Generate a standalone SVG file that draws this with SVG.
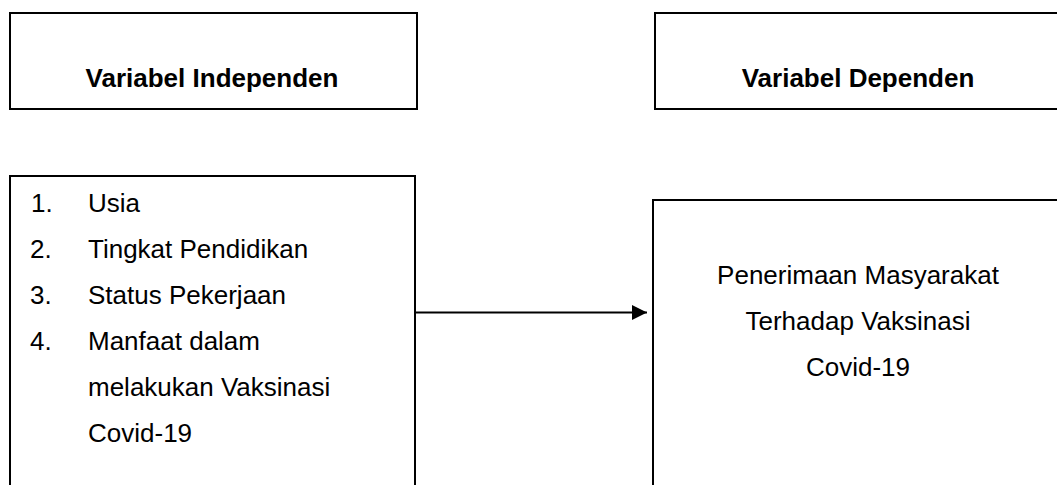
<svg xmlns="http://www.w3.org/2000/svg" width="1057" height="485" viewBox="0 0 1057 485">
<style>
.box{fill:#fff;stroke:#000;stroke-width:2}
.t{font-family:"Liberation Sans",Arial,sans-serif;font-size:26px;fill:#000}
.b{font-weight:bold}
.c{text-anchor:middle}
.edge{stroke:#000;stroke-width:2;fill:none}
</style>
<defs>
<marker id="arr" markerUnits="userSpaceOnUse" markerWidth="16" markerHeight="16" refX="15" refY="7.5" orient="auto">
<path d="M0,0 L15,7.5 L0,15 Z" fill="#000"/>
</marker>
</defs>
<rect width="1057" height="485" fill="#fff"/>
<g id="independen-header">
<rect class="box" x="10" y="13" width="407" height="96"/>
<text class="t b c" x="212" y="87">Variabel Independen</text>
</g>
<g id="dependen-header">
<rect class="box" x="655" y="13" width="410" height="96"/>
<text class="t b c" x="858" y="87">Variabel Dependen</text>
</g>
<g id="independen-list">
<rect class="box" x="10" y="176" width="405" height="320"/>
<text class="t" x="31" y="212">1.</text>
<text class="t" x="88" y="212">Usia</text>
<text class="t" x="30" y="258">2.</text>
<text class="t" x="88" y="258">Tingkat Pendidikan</text>
<text class="t" x="30" y="304">3.</text>
<text class="t" x="88" y="304">Status Pekerjaan</text>
<text class="t" x="30" y="350">4.</text>
<text class="t" x="88" y="350">Manfaat dalam</text>
<text class="t" x="88" y="396">melakukan Vaksinasi</text>
<text class="t" x="88" y="442">Covid-19</text>
</g>
<g id="dependen-box">
<rect class="box" x="653" y="200" width="420" height="300"/>
<text class="t c" x="858" y="284">Penerimaan Masyarakat</text>
<text class="t c" x="858" y="330">Terhadap Vaksinasi</text>
<text class="t c" x="858" y="376">Covid-19</text>
</g>
<g id="connectors">
<line class="edge" x1="415" y1="312.5" x2="647" y2="312.5" marker-end="url(#arr)"/>
</g>
</svg>
